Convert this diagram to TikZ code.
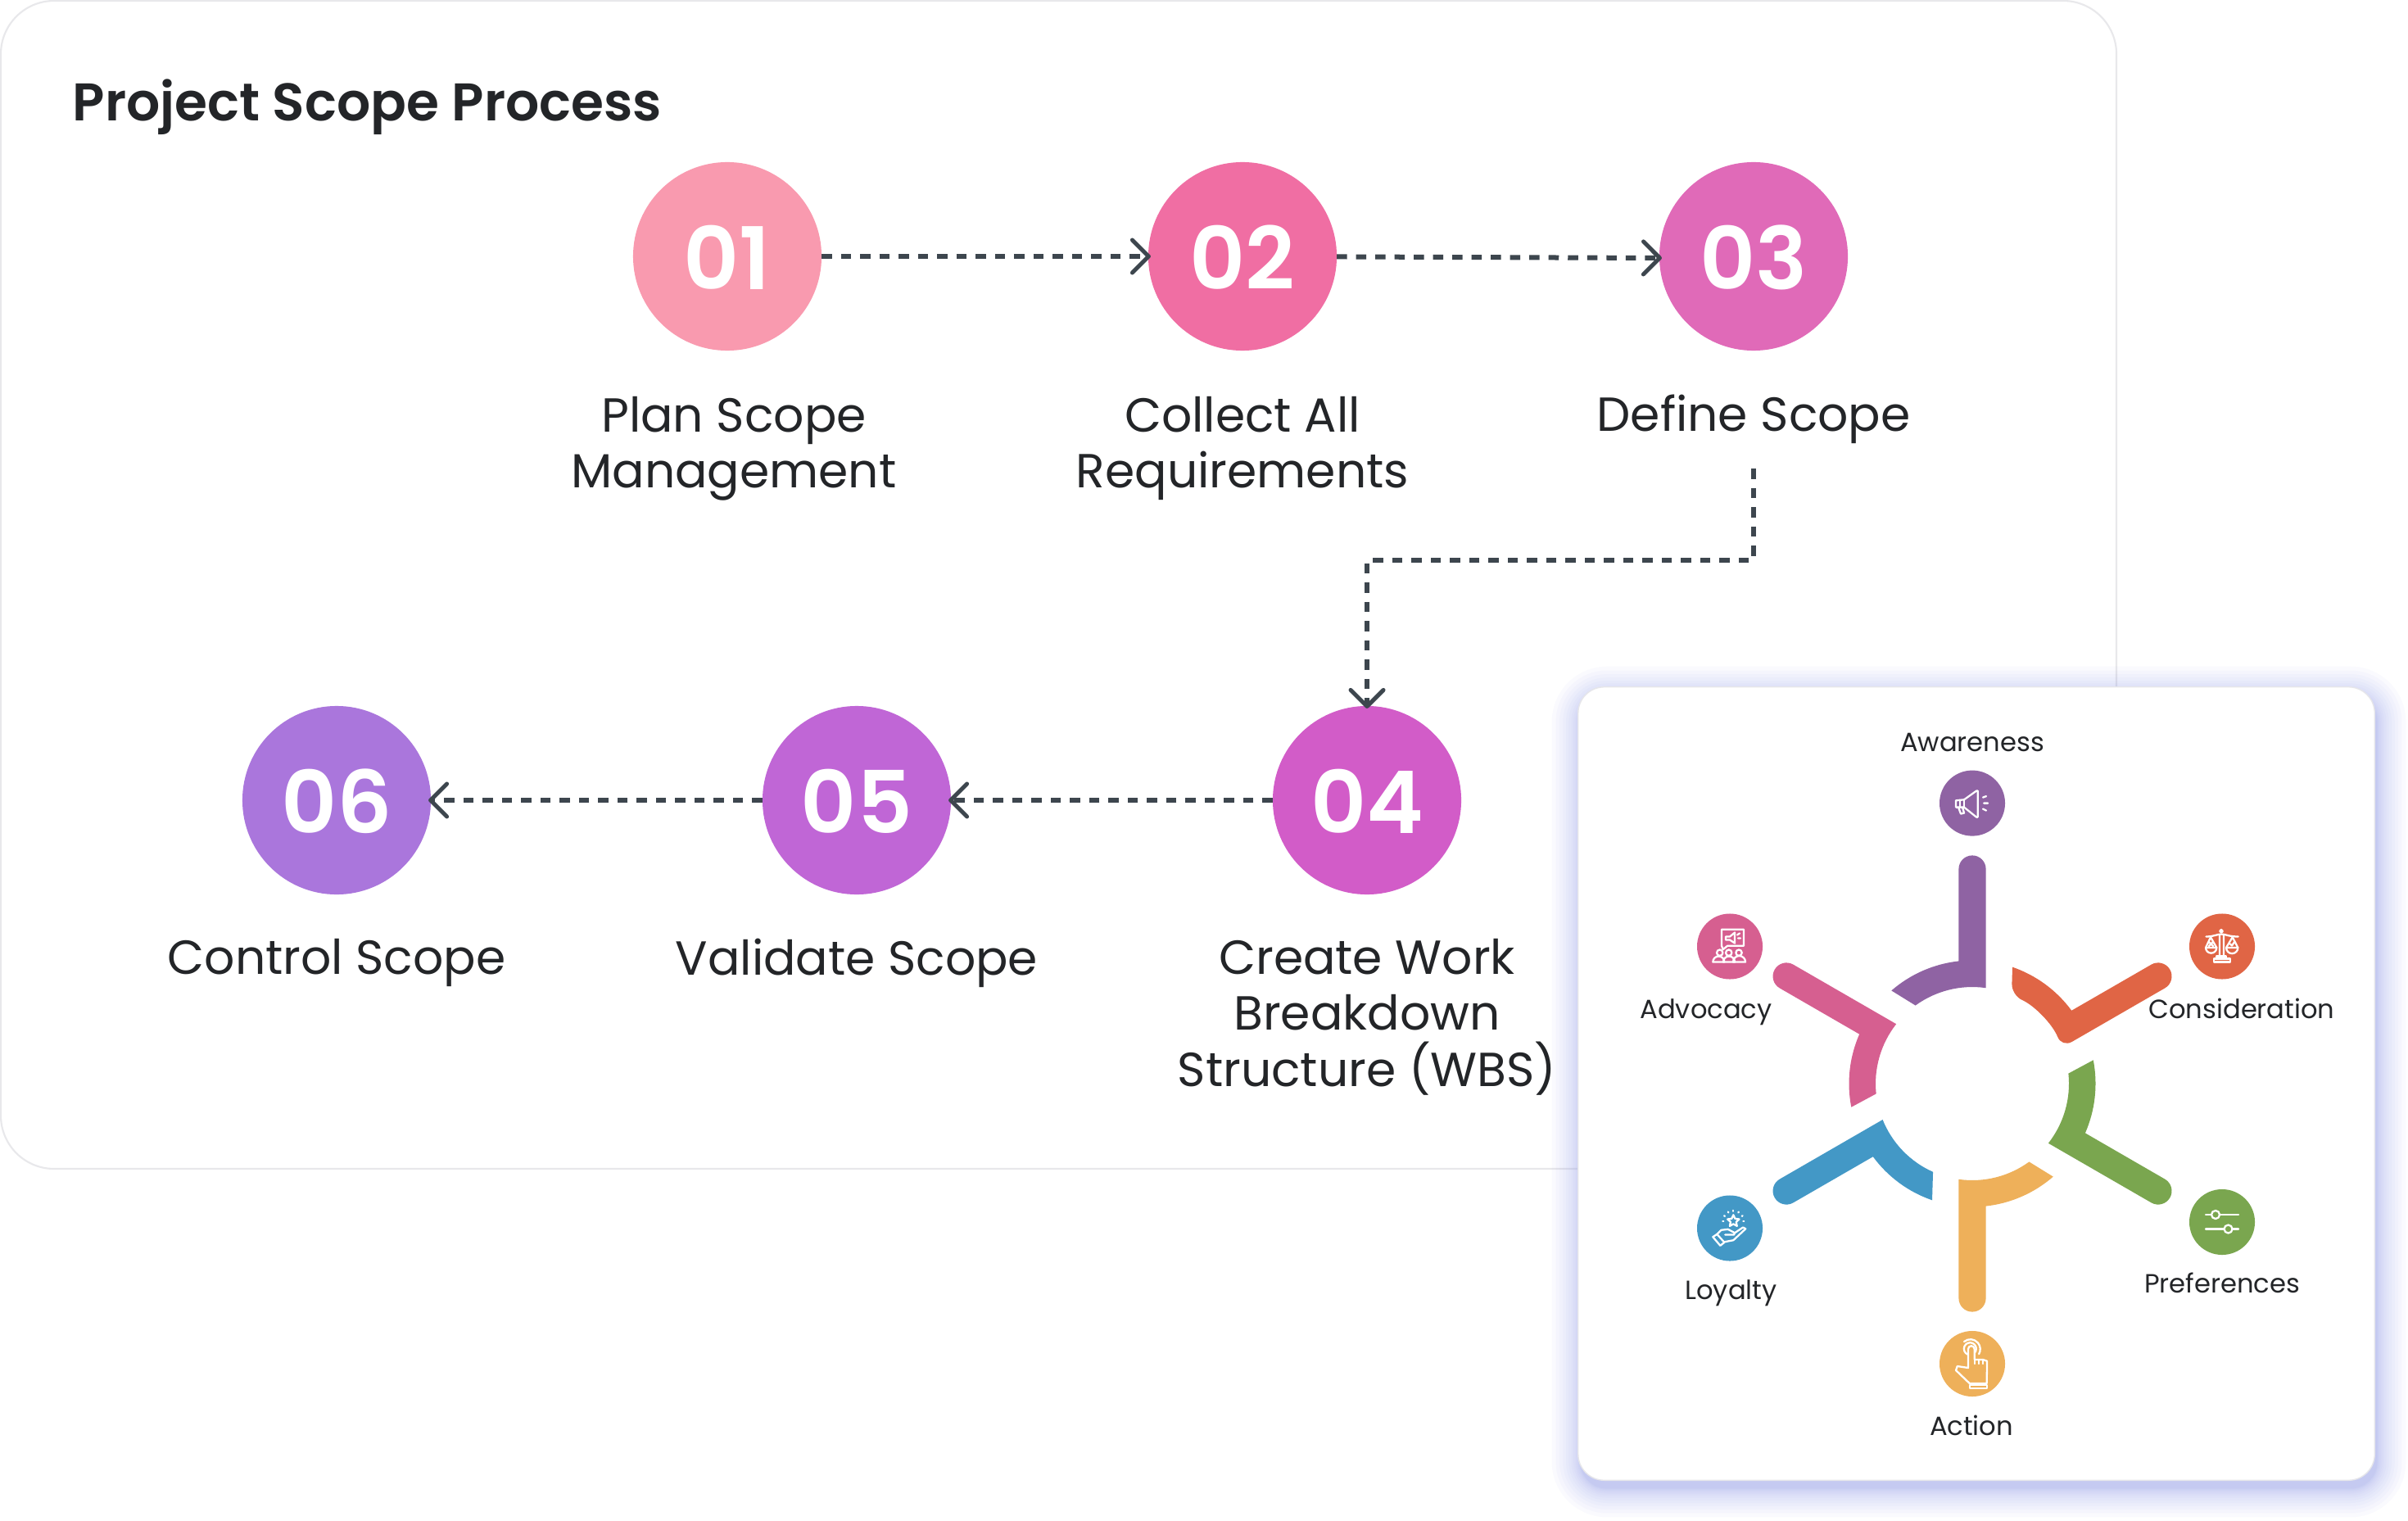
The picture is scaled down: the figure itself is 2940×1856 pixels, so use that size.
\documentclass[tikz,border=0pt]{standalone}
\usepackage{fontspec}
\usepackage{tikz}
\usepackage{xcolor}
\usetikzlibrary{shapes,arrows.meta,positioning}
\setmainfont{Poppins}
\newfontfamily\headfont{Poppins SemiBold}

\definecolor{ink}{HTML}{232528}
\definecolor{flowgrey}{HTML}{3D464E}
\definecolor{panelgrey}{HTML}{E8E8EB}
\definecolor{glow}{HTML}{8490E8}
\definecolor{cardedge}{HTML}{E6E6EA}
\definecolor{c01}{HTML}{F99AAF}
\definecolor{c02}{HTML}{F06EA3}
\definecolor{c03}{HTML}{E06AB8}
\definecolor{c04}{HTML}{D25CC8}
\definecolor{c05}{HTML}{C066D6}
\definecolor{c06}{HTML}{AA76DC}
\definecolor{cpurple}{HTML}{8F63A3}
\definecolor{corange}{HTML}{E06545}
\definecolor{cgreen}{HTML}{7AA64F}
\definecolor{camber}{HTML}{EEB05A}
\definecolor{cblue}{HTML}{4398C6}
\definecolor{cpink}{HTML}{D65F90}

\tikzstyle{stepdot} = [circle, minimum size=2.3cm, inner sep=0pt, outer sep=0pt, text=white, text height=23pt, text depth=0pt, font=\headfont\fontsize{30}{30}\selectfont]
\tikzstyle{steptext} = [align=center, inner sep=0pt, text=ink, font=\fontsize{16.6}{19.6}\selectfont]
\tikzstyle{flow} = [draw=flowgrey, line width=0.06cm, dash pattern=on 0.125cm off 0.11cm, shorten >=-0.03cm, -{Straight Barb[length=0.2cm,width=0.4cm,line width=0.05cm,round]}]
\tikzstyle{icondot} = [circle, minimum size=0.8cm, inner sep=0pt, outer sep=0pt]
\tikzstyle{icontext} = [anchor=base, inner sep=0pt, text=ink, font=\fontsize{9.15}{11}\selectfont]
\tikzstyle{icon} = [draw=white, line width=0.65pt, line join=round, line cap=round]

% one arm of the wheel, pointing up before it is turned
\newcommand{\spoke}[3]{%
  \fill[#2, shift={(2408,533)}, rotate=#1] (16.6,200) [#3] -- (16.6,116.8)
    arc[start angle=81.9, end angle=126, radius=118] [sharp corners]
    -- (131:150.5) arc[start angle=131, end angle=96.35, radius=150.5]
    -- (-16.6,262) arc[start angle=180, end angle=0, radius=16.6] -- cycle;}

\begin{document}
\begin{tikzpicture}[x=0.01cm, y=0.01cm]
    \useasboundingbox (0,0) rectangle (2940,1856);
    \fill[white] (0,0) rectangle (2940,1856);
    \draw[panelgrey, line width=0.6pt, rounded corners=0.65cm] (1,1855) rectangle (2584,429);

    \node [anchor=base west, inner sep=0pt, text=ink, font=\headfont\fontsize{18.4}{24}\selectfont] (title) at (88,1708) {Project Scope Process};

    % Place nodes
    \node [stepdot, fill=c01] (s01) at (888,1543) {01};
    \node [stepdot, fill=c02] (s02) at (1517,1543) {02};
    \node [stepdot, fill=c03] (s03) at (2141,1543) {03};
    \node [stepdot, fill=c04] (s04) at (1669,879) {04};
    \node [stepdot, fill=c05] (s05) at (1046,879) {05};
    \node [stepdot, fill=c06] (s06) at (411,879) {06};

    \node [steptext, below=0.55cm of s01, xshift=0.08cm] (t01) {Plan Scope\\Management};
    \node [steptext, below=0.55cm of s02] (t02) {Collect All\\Requirements};
    \node [steptext, below=0.53cm of s03] (t03) {Define Scope};
    \node [steptext, below=0.53cm of s04] (t04) {Create Work\\Breakdown\\Structure (WBS)};
    \node [steptext, below=0.53cm of s05] (t05) {Validate Scope};
    \node [steptext, below=0.53cm of s06] (t06) {Control Scope};

    \coordinate (c03) at (2141,1284);
    \coordinate (c34) at (1669,1172);

    \path [flow] (s01) -- (s02);
    \path [flow] (s02) -- ([yshift=-0.02cm]s03.west);
    \path [flow] (c03) |- (c34) -- (s04);
    \path [flow] (s04) -- (s05);
    \path [flow] (s05) -- (s06);

    % card with its glow
    \foreach \i [evaluate=\i as \d using 0.18*\i*\i] in {14,...,1}
      \fill[glow, opacity=0.04, rounded corners={(32+\d)*0.01cm}] ({1930-\d},{39-\d}) rectangle ({2902+\d},{1007+\d});
    \node [fill=white, draw=cardedge, line width=0.4pt, minimum width=9.72cm, minimum height=9.68cm, rounded corners=0.32cm, inner sep=0pt] (card) at (2413,533) {};

    \spoke{0}{cpurple}{sharp corners}
    \spoke{-60}{corange}{rounded corners=0.14cm}
    \spoke{-120}{cgreen}{sharp corners}
    \spoke{180}{camber}{sharp corners}
    \spoke{120}{cblue}{sharp corners}
    \spoke{60}{cpink}{sharp corners}

    \node [icondot, fill=cpurple] (awareness) at (2408,875.4) {};
    \node [icondot, fill=corange] (consideration) at (2713,700.5) {};
    \node [icondot, fill=cgreen] (preferences) at (2713,364) {};
    \node [icondot, fill=camber] (action) at (2408,191) {};
    \node [icondot, fill=cblue] (loyalty) at (2112,356.5) {};
    \node [icondot, fill=cpink] (advocacy) at (2112,700.5) {};

    \node [icontext] (lawareness) at (2408,939) {Awareness};
    \node [icontext] (lconsideration) at (2737,613) {Consideration};
    \node [icontext] (lpreferences) at (2713,277.5) {Preferences};
    \node [icontext] (laction) at (2407,104) {Action};
    \node [icontext] (lloyalty) at (2113.5,270) {Loyalty};
    \node [icontext] (ladvocacy) at (2083,613) {Advocacy};

    % megaphone
    \begin{scope}[shift={(awareness.center)}]
      \draw[icon] (-20,3.3) -- (-10,4.3) -- (5,15) -- (6.7,15) -- (6.7,-17) -- (5,-17) -- (-10,-5) -- (-20,-5) -- cycle;
      \draw[icon] (-10,4.3) -- (-10,-5) (-15,3.8) -- (-15,-5);
      \draw[icon] (-17,-5) -- (-14,-13) -- (-10,-12) -- (-12,-5);
      \draw[icon] (13,7) -- (17,8.5) (14,0) -- (19,0) (13,-7) -- (17,-9);
    \end{scope}
    % scales
    \begin{scope}[shift={(consideration.center)}]
      \draw[icon] (-1,18.7) circle (1.8) (-3,14) -- (-3,-12) (2,14) -- (2,-12);
      \draw[icon] (-19.6,12) .. controls (-10,12) and (-6,15) .. (-1,15) .. controls (4,15) and (8,12) .. (19.6,12);
      \draw[icon] (-14,11.3) -- (-20,-1.5) (-14,11.3) -- (-6.7,-1.5) (12.7,11.3) -- (5,-1.5) (12.7,11.3) -- (19.3,-1.5);
      \draw[icon] (-20,-1.5) -- (-6.7,-1.5) arc[start angle=0, end angle=-180, radius=6.65];
      \draw[icon] (5,-1.5) -- (19.3,-1.5) arc[start angle=0, end angle=-180, radius=7.15];
      \draw[icon] (-16,0.5) -- (-11,5.5) (-16,5.5) -- (-11,0.5) (10,3) -- (12,1) -- (15,5.5);
      \draw[icon] (-7,-12) rectangle (5,-15) (-10,-15) rectangle (10,-19);
    \end{scope}
    % sliders
    \begin{scope}[shift={(preferences.center)}]
      \draw[icon] (-20,9) -- (20,9) (-20,-8.5) -- (20,-8.5);
      \draw[icon, fill=cgreen] (-8,9) circle (5) (7.5,-8.5) circle (5);
    \end{scope}
    % pointing hand
    \begin{scope}[shift={(action.center)}]
      \draw[icon] (-2.7,18.3) circle (7.5);
      \draw[icon] (-10,27) arc[start angle=130, end angle=-30, radius=12];
      \draw[icon, fill=camber] (-5,-5) -- (-5,18) arc[start angle=180, end angle=0, radius=3.8] -- (2.7,5) -- (13,5) -- (18,3.3) -- (17.7,-24) -- (-3.3,-24) -- (-20,-8) -- (-18.3,-3) -- cycle;
      \draw[icon] (8,5) -- (8,0) (13,5) -- (13,0) (2.7,5) -- (2.7,0);
      \draw[icon] (-3.3,-26) rectangle (17.7,-30);
    \end{scope}
    % hand with star
    \begin{scope}[shift={(loyalty.center)}]
      \draw[icon, shift={(4.3,8.7)}] (90:7.5) -- (126:3.6) -- (162:7.5) -- (198:3.6) -- (234:7.5) -- (270:3.6) -- (306:7.5) -- (342:3.6) -- (18:7.5) -- (54:3.6) -- cycle;
      \foreach \a in {0,30,...,180}
        \draw[icon, shift={(4.3,8.7)}] (\a:12) -- (\a:13);
      \draw[icon] (-20.7,-10.7) -- (-15.7,-7.3) -- (-6.7,-17.3) -- (-11.7,-21.3) -- cycle;
      \draw[icon] (-16.3,-8) -- (-10.7,-2.3) -- (-2.3,-1.3) -- (6,-5.7) -- (5,-8) -- (-5.7,-8);
      \draw[icon] (6,-5.7) -- (16,1) -- (19.3,-0.7) -- (4.3,-14.7) -- (-6.3,-16.7);
    \end{scope}
    % audience and board
    \begin{scope}[shift={(advocacy.center)}]
      \draw[icon] (-3,0.7) -- (17,0.7) -- (17,20.7) -- (-10,20.7) -- (-10,0.7) -- (-8.3,-3.7) -- cycle;
      \draw[icon] (-5,8) -- (-5,12) -- (0,12) -- (6,17) -- (6,4) -- (0,8) -- cycle;
      \draw[icon] (9,14) -- (12,16) (10,10) -- (13,10);
      \draw[icon] (-12.3,-7.7) circle (3.7) (-1.3,-7.7) circle (3.7) (11,-7.7) circle (3.7);
      \draw[icon] (-20.7,-19) arc[start angle=180, end angle=0, radius=7] -- cycle;
      \draw[icon] (-8,-19) arc[start angle=180, end angle=0, radius=7] -- cycle;
      \draw[icon] (4,-19) arc[start angle=180, end angle=0, radius=7.5] -- cycle;
    \end{scope}

\end{tikzpicture}
\end{document}
